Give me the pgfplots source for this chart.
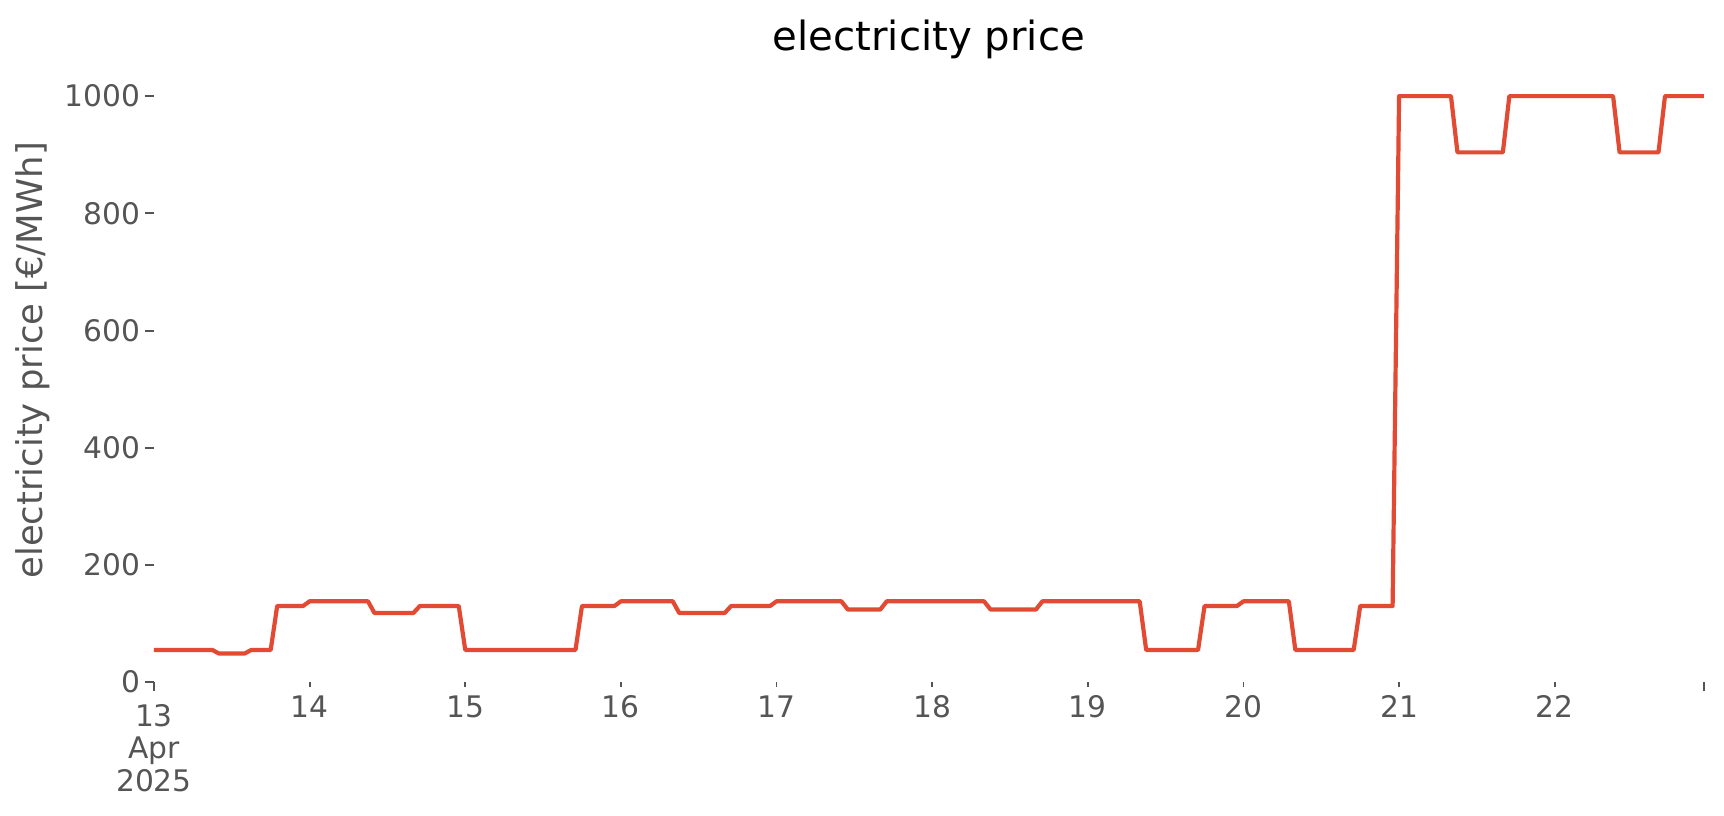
\documentclass[border=0pt]{standalone}
\usepackage{fontspec}
\setmainfont{DejaVu Sans}
\usepackage{pgfplots}
\pgfplotsset{compat=1.18}
\definecolor{linered}{HTML}{E24A33}
\definecolor{ticktext}{HTML}{555555}

\begin{document}
\begin{tikzpicture}
\useasboundingbox (0,0) rectangle (720bp,340.4bp);
\begin{axis}[
  at={(64.3bp,55.5bp)}, anchor=south west,
  scale only axis,
  width=647.3bp, height=256.5bp,
  xmin=0, xmax=239, ymin=0, ymax=1048,
  axis line style={draw=none},
  xtick pos=bottom, ytick pos=left,
  tick align=outside,
  tick style={color=ticktext, line width=0.8bp},
  major tick length=2.1bp,
  ytick style={/pgfplots/major tick length=3.75bp},
  ytick={0,200,...,1000},
  xtick={24,48,...,216},
  xticklabels={14,15,16,17,18,19,20,21,22},
  extra x ticks={0,239},
  extra x tick labels={{13\\Apr\\2025},{}},
  extra x tick style={major tick length=3.75bp, xticklabel style={align=center, yshift=-2bp}},
  /pgf/number format/assume math mode=true,
  /pgf/number format/1000 sep={},
  tick label style={font=\fontsize{12.4bp}{13.6bp}\selectfont, color=ticktext},
  title={electricity price},
  title style={font=\fontsize{16.8bp}{20bp}\selectfont, color=black, at={(0.5,1)}, anchor=base, yshift=1.4bp},
  ylabel={electricity price [€/MWh]},
  ylabel style={at={(axis description cs:-0.078,0.524)}, anchor=center, font=\fontsize{14.8bp}{17bp}\selectfont, color=ticktext},
]
\addplot[linered, line width=1.75bp, line join=round, mark=none] coordinates {
  (0,55) (9,55) (10,49) (14,49) (15,55) (18,55) (19,130) (23,130)
  (24,138) (33,138) (34,118) (40,118) (41,130) (47,130)
  (48,55) (65,55) (66,130) (71,130)
  (72,138) (80,138) (81,118) (88,118) (89,130) (95,130)
  (96,138) (106,138) (107,124) (112,124) (113,138)
  (128,138) (129,124) (136,124) (137,138)
  (152,138) (153,55) (161,55) (162,130) (167,130)
  (168,138) (175,138) (176,55) (185,55) (186,130) (191,130)
  (192,1000) (200,1000) (201,904) (208,904) (209,1000)
  (225,1000) (226,904) (232,904) (233,1000) (239,1000)
};
\end{axis}
\end{tikzpicture}
\end{document}
